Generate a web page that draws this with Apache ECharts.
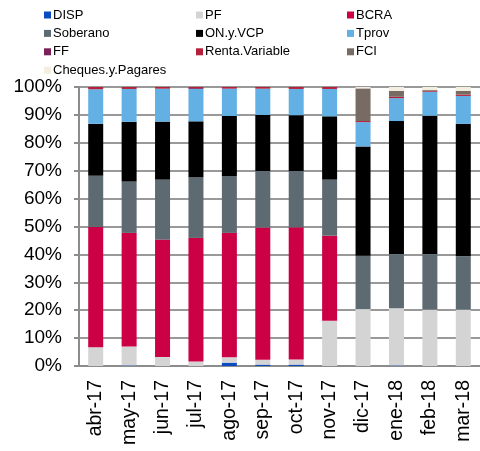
<!DOCTYPE html>
<html>
<head>
<meta charset="utf-8">
<script src="https://cdn.jsdelivr.net/npm/echarts@6/dist/echarts.min.js"></script>
<style>
  html, body { margin: 0; padding: 0; background: #fff; }
  #chart { width: 480px; height: 451px; }
</style>
</head>
<body>
<div id="chart"></div>
<script>
var meses = ['abr-17', 'may-17', 'jun-17', 'jul-17', 'ago-17', 'sep-17', 'oct-17', 'nov-17', 'dic-17', 'ene-18', 'feb-18', 'mar-18'];

// participacion (%) por instrumento, de abajo hacia arriba
var disp     = [0,    0.2,  0,    0,    1.2,  0.5,  0.5,  0,    0,    0.2,  0,    0];
var pf       = [6.7,  6.8,  3.2,  1.6,  1.9,  1.7,  1.8,  16.2, 20.4, 20.5, 20.2, 20.2];
var bcra     = [43.1, 40.7, 42.1, 44.3, 44.6, 47.4, 47.4, 30.5, 0,    0,    0,    0];
var soberano = [18.4, 18.4, 21.5, 21.7, 20.4, 20.3, 20.2, 20.1, 19.1, 19.4, 19.9, 19.2];
var onVcp    = [18.6, 21.4, 20.8, 20.1, 21.5, 20.1, 20.0, 22.7, 39.2, 47.7, 49.6, 47.4];
var tprov    = [12.4, 11.8, 11.8, 11.6, 9.8,  9.4,  9.4,  9.8,  8.7,  8.2,  8.6,  10.0];
var ff       = [0,    0,    0,    0.3,  0,    0,    0,    0,    0,    0,    0,    0];
var rentaVar = [0.8,  0.7,  0.6,  0.4,  0.6,  0.6,  0.7,  0.7,  0.4,  0.5,  0.3,  0.5];
var fci      = [0,    0,    0,    0,    0,    0,    0,    0,    11.7, 2.1,  0.3,  1.3];
var cheques  = [0,    0,    0,    0,    0,    0,    0,    0,    0.5,  1.4,  1.1,  1.4];

var nombres = ['DISP', 'PF', 'BCRA', 'Soberano', 'ON.y.VCP', 'Tprov', 'FF', 'Renta.Variable', 'FCI', 'Cheques.y.Pagares'];
var datos = [disp, pf, bcra, soberano, onVcp, tprov, ff, rentaVar, fci, cheques];
var colores = ['#0a4cc0', '#d4d4d4', '#cc0044', '#5e6a72', '#000000', '#62b0e4', '#7b2058', '#b5203a', '#776b64', '#f3eedf'];

var fuente = '"Liberation Sans", Arial, sans-serif';

var series = nombres.map(function (n, i) {
  return {
    name: n,
    type: 'bar',
    stack: 'total',
    barWidth: 15,
    data: datos[i],
    itemStyle: { color: colores[i] }
  };
});

function leyenda(items, left) {
  return {
    orient: 'vertical',
    left: left,
    top: 8,
    icon: 'rect',
    itemWidth: 7,
    itemHeight: 7,
    itemGap: 4.4,
    padding: 0,
    selectedMode: false,
    textStyle: { fontFamily: fuente, fontSize: 13, color: '#000', lineHeight: 14, padding: [0, 0, 0, -3] },
    data: items
  };
}

var chart = echarts.init(document.getElementById('chart'));
var option = {
  animation: false,
  color: colores,
  legend: [
    leyenda(['DISP', 'Soberano', 'FF', 'Cheques.y.Pagares'], 44),
    leyenda(['PF', 'ON.y.VCP', 'Renta.Variable'], 196),
    leyenda(['BCRA', 'Tprov', 'FCI'], 347)
  ],
  grid: { left: 79, right: -5, top: 87, bottom: 85 },
  xAxis: {
    type: 'category',
    data: meses,
    axisLine: { lineStyle: { color: '#8c8c8c', width: 2 } },
    axisTick: { lineStyle: { color: '#8c8c8c', width: 2 }, length: 5 },
    axisLabel: { rotate: 90, fontFamily: fuente, fontSize: 19.5, color: '#000', margin: 14, interval: 0 }
  },
  yAxis: {
    type: 'value',
    min: 0,
    max: 100,
    interval: 10,
    axisLine: { show: true, lineStyle: { color: '#8c8c8c', width: 2 } },
    axisTick: { show: true, lineStyle: { color: '#8c8c8c', width: 2 }, length: 5 },
    splitLine: { lineStyle: { color: '#999999', width: 2 } },
    axisLabel: { formatter: '{value}%', fontFamily: fuente, fontSize: 19, color: '#000', margin: 17 }
  },
  series: series
};
chart.setOption(option);
</script>
</body>
</html>
